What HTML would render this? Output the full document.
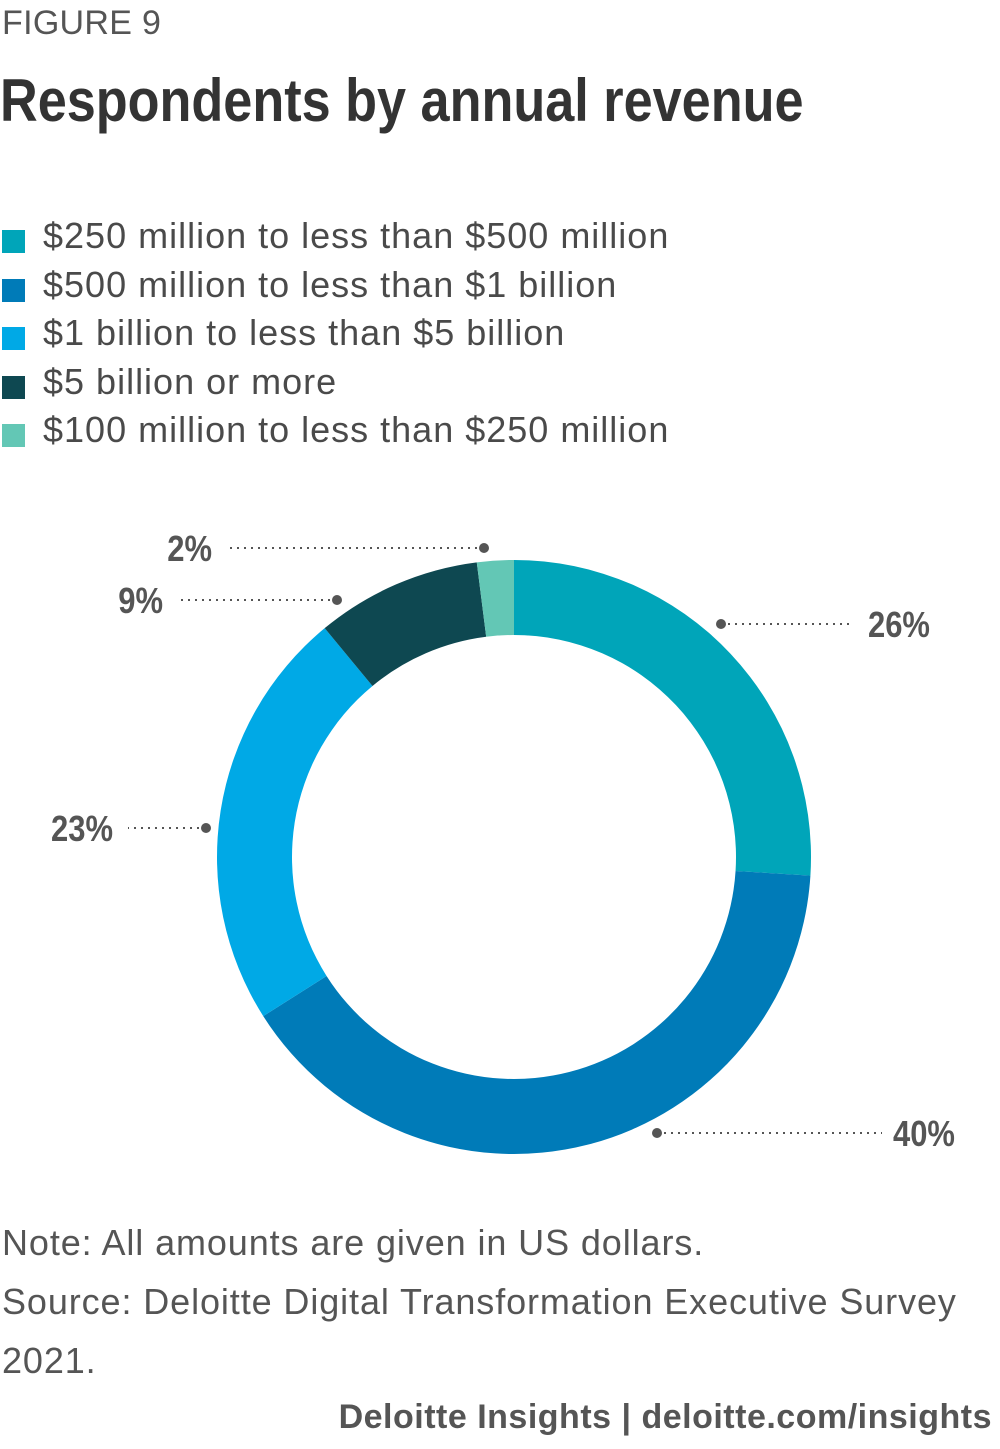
<!DOCTYPE html>
<html><head><meta charset="utf-8"><style>
body{margin:0;background:#fff;width:1000px;height:1449px;overflow:hidden;font-family:"Liberation Sans",sans-serif;color:#4a4a4a}
.fig{position:absolute;left:2px;top:4px;font-size:34px;color:#555;letter-spacing:0.3px}
.title{position:absolute;left:0;top:66px;font-weight:bold;font-size:60px;color:#333;transform:scaleX(0.87);transform-origin:0 0;white-space:nowrap}
.leg{position:absolute;left:0;font-size:36px;color:#4a4a4a;white-space:nowrap;letter-spacing:1px}
.leg span.sw{position:absolute;left:2px;top:15px;width:23px;height:23px}
.leg span.tx{position:absolute;left:43px;top:0}
.note{position:absolute;left:2px;font-size:36px;color:#555;white-space:nowrap;letter-spacing:0.9px}
.foot{position:absolute;right:8px;top:1398px;font-size:34px;font-weight:bold;color:#555;letter-spacing:0.5px}
</style></head><body>
<div class="fig">FIGURE 9</div>
<div class="title">Respondents by annual revenue</div>
<div id="legend"></div>
<svg id="chart" width="1000" height="1449" style="position:absolute;left:0;top:0"></svg>
<div class="note" style="top:1222px">Note: All amounts are given in US dollars.</div>
<div class="note" style="top:1281px">Source: Deloitte Digital Transformation Executive Survey</div>
<div class="note" style="top:1340px">2021.</div>
<div class="foot">Deloitte Insights | deloitte.com/insights</div>
<script>
const categories=["$250 million to less than $500 million","$500 million to less than $1 billion","$1 billion to less than $5 billion","$5 billion or more","$100 million to less than $250 million"];
const values=[26,40,23,9,2];
const valueLabels=["26%","40%","23%","9%","2%"];
const colors=["#00a5b9","#007bb8","#00a9e6","#0e4851","#63c7b5"];
// label layout: [dotX,dotY,lineEndX,textX,textAnchor]
const layout=[[721,624,852,868,"start"],[657,1133,882,893,"start"],[206,828,128,113,"end"],[337,600,178,163,"end"],[484,548,228,212,"end"]];
const NS="http://www.w3.org/2000/svg";
const svg=document.getElementById("chart");
const leg=document.getElementById("legend");
categories.forEach((c,i)=>{
  const d=document.createElement("div");d.className="leg";d.style.top=(215+i*48.5)+"px";
  
  
  d.innerHTML='<span class="sw" style="background:'+colors[i]+'"></span><span class="tx">'+c+'</span>';
  leg.appendChild(d);
});
const cx=514,cy=857,R=297,r=222;
const total=values.reduce((a,b)=>a+b,0);
function pt(rad,a){return [cx+rad*Math.sin(a),cy-rad*Math.cos(a)];}
let acc=0;
values.forEach((v,i)=>{
  const a0=acc/total*2*Math.PI;acc+=v;const a1=acc/total*2*Math.PI;
  const big=(a1-a0)>Math.PI?1:0;
  const p0=pt(R,a0),p1=pt(R,a1),q1=pt(r,a1),q0=pt(r,a0);
  const p=document.createElementNS(NS,"path");
  p.setAttribute("d",`M${p0[0]},${p0[1]} A${R},${R} 0 ${big} 1 ${p1[0]},${p1[1]} L${q1[0]},${q1[1]} A${r},${r} 0 ${big} 0 ${q0[0]},${q0[1]} Z`);
  p.setAttribute("fill",colors[i]);
  
  
  svg.appendChild(p);
  const L=layout[i];
  const ln=document.createElementNS(NS,"line");
  ln.setAttribute("x1",L[0]);ln.setAttribute("y1",L[1]);ln.setAttribute("x2",L[2]);ln.setAttribute("y2",L[1]);
  ln.setAttribute("stroke","#555");ln.setAttribute("stroke-width","2");ln.setAttribute("stroke-dasharray","2 5");
  
  
  svg.appendChild(ln);
  const c=document.createElementNS(NS,"circle");
  c.setAttribute("cx",L[0]);c.setAttribute("cy",L[1]);c.setAttribute("r","5");c.setAttribute("fill","#555");
  
  
  svg.appendChild(c);
  const t=document.createElementNS(NS,"text");
  t.setAttribute("x",L[3]);t.setAttribute("y",L[1]+13);t.setAttribute("text-anchor",L[4]);
  t.setAttribute("font-family","Liberation Sans, sans-serif");
  t.setAttribute("font-weight","bold");t.setAttribute("font-size","36");t.setAttribute("fill","#555");
  t.setAttribute("transform",`translate(${L[3]},0) scale(0.86,1) translate(${-L[3]},0)`);
  t.textContent=valueLabels[i];
  
  
  svg.appendChild(t);
});
</script>
</body></html>
